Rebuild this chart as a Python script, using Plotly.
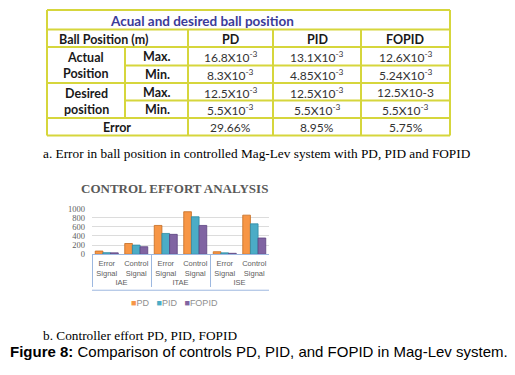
import plotly.graph_objects as go

# ---------------- data ----------------
table_title = "Acual and desired ball position"
header_label = "Ball Position (m)"
controllers = ["PD", "PID", "FOPID"]
row_groups = ["Actual<br>Position", "Desired<br>position"]
row_stats = ["Max.", "Min."]
actual_max = ["16.8X10<sup>-3</sup>", "13.1X10<sup>-3</sup>", "12.6X10<sup>-3</sup>"]
actual_min = ["8.3X10<sup>-3</sup>", "4.85X10<sup>-3</sup>", "5.24X10<sup>-3</sup>"]
desired_max = ["12.5X10<sup>-3</sup>", "12.5X10<sup>-3</sup>", "12.5X10-3"]
desired_min = ["5.5X10<sup>-3</sup>", "5.5X10<sup>-3</sup>", "5.5X10<sup>-3</sup>"]
error_label = "Error"
error_vals = ["29.66%", "8.95%", "5.75%"]

chart_title = "CONTROL EFFORT ANALYSIS"
indices = ["IAE", "IAE", "ITAE", "ITAE", "ISE", "ISE"]
signals = ["Error<br>Signal", "Control<br>Signal"] * 3
pd_vals = [70, 235, 630, 930, 55, 855]
pid_vals = [35, 200, 455, 820, 30, 665]
fopid_vals = [30, 165, 435, 630, 20, 355]
y_ticks = [0, 200, 400, 600, 800, 1000]

caption_a = "a. Error in ball position in controlled Mag-Lev system with PD, PID and FOPID"
caption_b = "b. Controller effort PD, PID, FOPID"
fig_caption_bold = "Figure 8:"
fig_caption_rest = " Comparison of controls PD, PID, and FOPID in Mag-Lev system."

# ---------------- layout helpers ----------------
# the page body has an 8px margin, so the figure is made 8px smaller and
# window pixel positions are converted to paper fractions accordingly
OFF = 8
W, H = 515 - OFF, 375 - OFF
def px(x):
    return (x - OFF) / W
def py(y):
    return 1 - (y - OFF) / H

fig = go.Figure()

# ---------------- bar chart ----------------
colors = ["#f79646", "#4bacc6", "#8064a2"]
edges = ["#c46a1e", "#2f8aa3", "#5b4380"]
for name, vals, c, e in zip(controllers, [pd_vals, pid_vals, fopid_vals], colors, edges):
    fig.add_trace(go.Bar(
        x=[indices, signals], y=vals, name=name, showlegend=False,
        marker=dict(color=c, line=dict(color=e, width=0.8)),
    ))

fig.update_layout(
    width=W, height=H, margin=dict(l=0, r=0, t=0, b=0),
    paper_bgcolor="white", plot_bgcolor="white",
    barmode="group", bargap=0.22, bargroupgap=0,
    showlegend=False,
    xaxis=dict(domain=[px(92), px(269)], type="multicategory", tickangle=0,
               showline=True, linecolor="#9db8e0", linewidth=1,
               showdividers=True, dividercolor="#9db8e0", dividerwidth=1,
               tickfont=dict(size=7.5, color="#606060", family="Liberation Sans"),
               ticklabelstandoff=2, showgrid=False),
    yaxis=dict(domain=[py(256), py(209)], range=[0, 1000], tickvals=y_ticks,
               showgrid=True, gridcolor="#dcdcdc", gridwidth=1, zeroline=False,
               tickfont=dict(size=8.5, color="#606060", family="Liberation Serif"),
               ticks="", ticklabelstandoff=6),
)

shapes = []
annotations = []

# bottom of category box
shapes.append(dict(type="line", xref="paper", yref="paper", x0=px(92), x1=px(269),
                   y0=py(293), y1=py(293), line=dict(color="#9db8e0", width=1)))

# legend (drawn as text so it stays as small as the original)
legend_text = "   ".join(
    f"<span style='color:{c}'>■</span><span style='color:#909090'>{n}</span>"
    for n, c in zip(controllers, colors))
annotations.append(dict(xref="paper", yref="paper", x=px(174), y=py(306), text=legend_text,
                        showarrow=False, xanchor="center", yanchor="middle",
                        font=dict(size=9, color="#909090", family="Liberation Sans")))

# ---------------- table ----------------
border = "#d6d63c"
L, R = 47, 450

def hline(y, x0, x1):
    shapes.append(dict(type="line", xref="paper", yref="paper", x0=px(x0), x1=px(x1),
                       y0=py(y), y1=py(y), line=dict(color=border, width=2)))
def vline(x, y0, y1):
    shapes.append(dict(type="line", xref="paper", yref="paper", x0=px(x), x1=px(x),
                       y0=py(y0), y1=py(y1), line=dict(color=border, width=2)))

hline(5, L, R); hline(134, L, R)
vline(L, 5, 134); vline(R, 5, 134)
for y in [25, 43, 80, 116]:
    hline(y, L, R)
for y in [62, 98]:
    hline(y, 125, R)
for x in [188, 273, 361]:
    vline(x, 25, 134)
vline(125, 43, 116)

tfont = "Lato"
def text(x, y, s, size=10.5, color="#1a1a1a", bold=False, family=tfont, xanchor="center"):
    annotations.append(dict(xref="paper", yref="paper", x=px(x), y=py(y), text=(f"<b>{s}</b>" if bold else s),
                            showarrow=False, xanchor=xanchor, yanchor="middle",
                            font=dict(size=size, color=color, family=family)))

text(202, 16, table_title, size=13.5, color="#3b3b99", bold=True)
text(57, 35, header_label, size=12.5, bold=True, xanchor="left")
col_centers = [230.5, 317, 405.5]
for cx, c in zip(col_centers, controllers):
    text(cx, 35, c, size=12.5, bold=True)

row_centers = [(53, 71.5), (90, 107.5)]
group_centers = [62, 98.5]
value_rows = [[actual_max, actual_min], [desired_max, desired_min]]
for g, gname in enumerate(row_groups):
    text(86, group_centers[g], gname, size=12.5, bold=True)
    for s, sname in enumerate(row_stats):
        yc = row_centers[g][s]
        text(157, yc, sname, size=12.5, bold=True)
        for cx, v in zip(col_centers, value_rows[g][s]):
            text(cx, yc, v, size=12, color="#333333")

text(117, 125.5, error_label, size=12.5, bold=True)
for cx, v in zip(col_centers, error_vals):
    text(cx, 125.5, v, size=12, color="#333333")

# ---------------- captions ----------------
annotations.append(dict(xref="paper", yref="paper", x=px(41), y=py(152), text=caption_a,
                        showarrow=False, xanchor="left", yanchor="middle",
                        font=dict(size=13.3, color="#000000", family="Liberation Serif")))
annotations.append(dict(xref="paper", yref="paper", x=px(79), y=py(188), text=f"<b>{chart_title}</b>",
                        showarrow=False, xanchor="left", yanchor="middle",
                        font=dict(size=13, color="#595959", family="Liberation Serif")))
annotations.append(dict(xref="paper", yref="paper", x=px(41), y=py(340), text=caption_b,
                        showarrow=False, xanchor="left", yanchor="middle",
                        font=dict(size=13.3, color="#000000", family="Liberation Serif")))
annotations.append(dict(xref="paper", yref="paper", x=px(8), y=py(356),
                        text=f"<b>{fig_caption_bold}</b>{fig_caption_rest}",
                        showarrow=False, xanchor="left", yanchor="middle",
                        font=dict(size=15, color="#000000", family="Liberation Sans")))

fig.update_layout(shapes=shapes, annotations=annotations)
fig.write_html("out.html")
